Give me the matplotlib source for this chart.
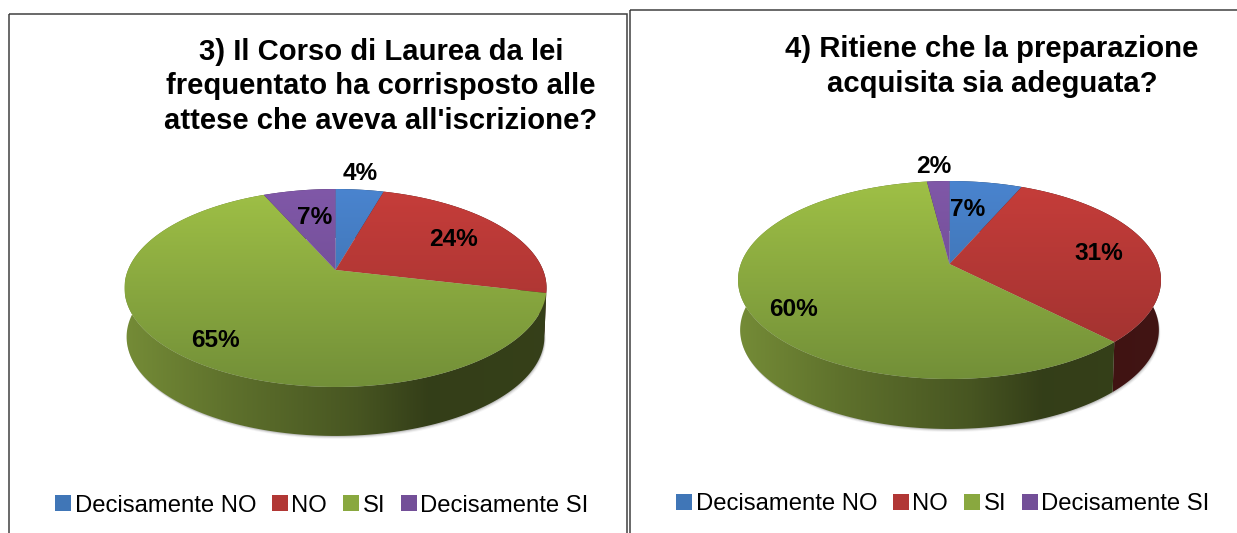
import numpy as np
import matplotlib
matplotlib.use("Agg")
import matplotlib.pyplot as plt
from matplotlib.patches import Polygon, Patch, Rectangle

plt.rcParams['font.family'] = ['Liberation Sans', 'DejaVu Sans']

categories = ["Decisamente NO", "NO", "SI", "Decisamente SI"]
titles = ["3) Il Corso di Laurea da lei\nfrequentato ha corrisposto alle\nattese che aveva all'iscrizione?",
          "4) Ritiene che la preparazione\nacquisita sia adeguata?"]
values_q3 = [4.4, 24.3, 64.7, 6.6]
values_q4 = [6.5, 31.2, 60.3, 2.0]
labels_q3 = ["4%", "24%", "65%", "7%"]
labels_q4 = ["7%", "31%", "60%", "2%"]
label_deg_q3 = [6.7, 59.6, 218.7, 350]
label_r_q3 = [1.267, 0.70, 0.817, 0.64]
label_deg_q4 = [8.7, 80.1, 238.7, 355.9]
label_r_q4 = [0.65, 0.742, 0.817, 1.234]

top_colors = [("#4a84cf", "#36689f"), ("#c63d3a", "#9c312f"), ("#9fc046", "#728f38"), ("#8058a8", "#664587")]
side_colors = ["#4a84cf", "#c63d3a", "#a2c24c", "#8058a8"]

W, H = 1237, 533
fig = plt.figure(figsize=(W / 100, H / 100), dpi=100)


def rgb(c):
    return np.array(matplotlib.colors.to_rgb(c))


def project(deg, geo, r=1.0):
    th = np.radians(deg)
    u, v = r * np.sin(th), r * np.cos(th)
    w = 1 + geo["k"] * v
    return geo["cx"] + geo["b"] * u / w, geo["cy"] - geo["a"] * v / w


def panel(box, title, title_xy, values, labels, lab_deg, lab_r, geo, legend_xy):
    ax = fig.add_axes([0, 0, 1, 1], facecolor="none")
    ax.set_axis_off()
    x0, y0, x1, y1 = box
    ax.add_patch(Rectangle((x0, y0), x1 - x0, y1 - y0, fill=False, ec="#404040", lw=1.1, clip_on=False))

    edges = np.concatenate([[0], np.cumsum(values)]) / np.sum(values) * 360
    L, R = geo["cx"] - geo["rx"], geo["cx"] + geo["rx"]
    ytop = geo["cy"] - geo["a"] / (1 + geo["k"])
    ybot = geo["cy"] + geo["a"] / (1 - geo["k"])
    d = geo["depth"]
    shrink = 0.99

    # soft shadow below the disc
    t = np.linspace(0, 360, 361)
    px, py = project(t, geo)
    sx = geo["cx"] + (px - geo["cx"]) * shrink
    for off, al in [(3, 0.06), (2, 0.12), (1, 0.2)]:
        ax.fill(sx + 0.5 * off, py + d + off, color="#505050", alpha=al, lw=0)

    # rim
    fac = np.interp(np.linspace(0, 1, 256), [0, 0.25, 0.55, 0.72, 1], [0.72, 0.58, 0.44, 0.32, 0.33])
    for i, col in enumerate(side_colors):
        t = np.linspace(edges[i], edges[i + 1], 160)
        px, py = project(t, geo)
        sx = geo["cx"] + (px - geo["cx"]) * shrink
        poly = Polygon(np.column_stack([np.r_[px, sx[::-1]], np.r_[py, (py + d)[::-1]]]),
                       closed=True, transform=ax.transData, fc="none", ec="none")
        ax.add_patch(poly)
        img = (fac[None, :, None] * rgb(col)[None, None, :])
        im = ax.imshow(img, extent=(L, R, ybot + d + 5, ytop), aspect="auto", zorder=1, interpolation="bilinear")
        im.set_clip_path(poly)

    # top faces
    for i, (c1, c2) in enumerate(top_colors):
        t = np.linspace(edges[i], edges[i + 1], 200)
        px, py = project(t, geo)
        poly = Polygon(np.column_stack([np.r_[geo["cx"], px], np.r_[geo["cy"], py]]),
                       closed=True, transform=ax.transData, fc="none", ec="none")
        ax.add_patch(poly)
        g = np.linspace(0, 1, 256)[:, None, None]
        img = rgb(c1)[None, None, :] * (1 - g) + rgb(c2)[None, None, :] * g
        im = ax.imshow(img, extent=(L - 2, R + 2, ybot + 1, ytop - 1), aspect="auto", zorder=2, interpolation="bilinear")
        im.set_clip_path(poly)

    for lab, deg, r in zip(labels, lab_deg, lab_r):
        lx, ly = project(deg, geo, r)
        ax.text(lx, ly + 1.5, lab, ha="center", va="center", fontsize=17.6, fontweight="bold", color="black", zorder=5)

    ax.text(title_xy[0], title_xy[1], title, ha="center", va="center", fontsize=21.1,
            fontweight="bold", color="black", linespacing=1.275, zorder=5)

    handles = [Patch(fc=(rgb(a) + rgb(b)) / 2, ec="none", label=c) for (a, b), c in zip(top_colors, categories)]
    ax.legend(handles=handles, loc="center", bbox_to_anchor=legend_xy, bbox_transform=ax.transData, ncol=4,
              frameon=False, fontsize=17.2, handlelength=0.66, handleheight=0.66, handletextpad=0.15,
              columnspacing=0.67, borderpad=0, labelcolor="black")

    ax.set_xlim(0, W)
    ax.set_ylim(H, 0)


geo3 = dict(cx=335.5, cy=270, a=95.7, b=207.5, k=0.1818, rx=211, depth=49)
geo4 = dict(cx=949.5, cy=264, a=96.4, b=208.7, k=0.1617, rx=211.5, depth=50)

panel((9, 14, 627, 545), titles[0], (381, 86.5), values_q3, labels_q3, label_deg_q3, label_r_q3, geo3, (322, 505.5))
panel((630, 10, 1245, 545), titles[1], (992, 66.5), values_q4, labels_q4, label_deg_q4, label_r_q4, geo4, (943, 504.5))

fig.savefig("out.png", dpi=100)
